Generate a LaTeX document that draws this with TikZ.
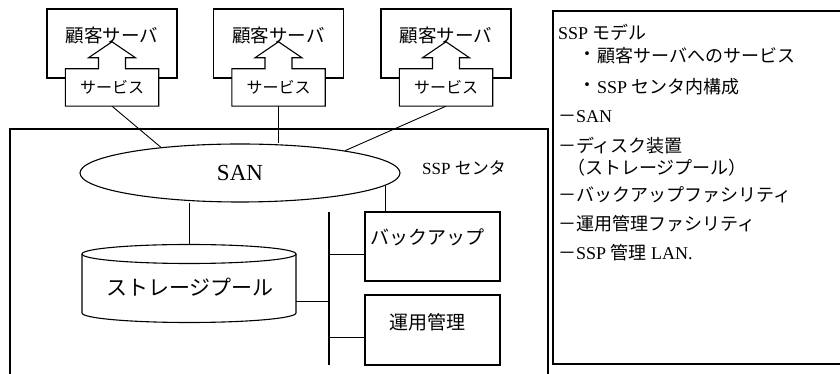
\documentclass[tikz,border=0pt]{standalone}
\usepackage{fontspec}
\usetikzlibrary{shapes.geometric}
\setmainfont{Liberation Serif}
\newfontfamily\jp{Noto Sans CJK JP}
\newcommand\myfs[1]{\fontsize{#1}{#1}\selectfont}
\begin{document}
\begin{tikzpicture}[x=1pt,y=1pt,
  custbox/.style={draw, line width=1.1pt, fill=white, minimum width=130pt, minimum height=69pt, inner sep=0pt},
  svcbox/.style={fill=white, minimum width=93pt, minimum height=37pt, inner sep=0pt, font=\jp\myfs{16}},
  custtxt/.style={inner sep=0pt, font=\jp\myfs{18.5}},
  sbox/.style={draw, line width=1.1pt, minimum width=135pt, minimum height=69pt, inner sep=0pt},
  lbl/.style={inner sep=0pt, anchor=west},
  frame/.style={line width=1.6pt},
  conn/.style={line width=0.9pt}
]
\useasboundingbox (0,0) rectangle (840,374);
% frames
\draw[frame] (10,-2) -- (10,245) -- (548,245) -- (548,-2);
\draw[frame] (842,363) -- (553,363) -- (553,10) -- (842,10);

% customer servers
\foreach \i/\cx in {1/112,2/278.5,3/446}{
  \node[custbox] (cust\i) at (\cx,330.5) {};
  \node[custtxt] (ct\i) at ([yshift=8.5pt]cust\i.center) {顧客サーバ};
  \node[svcbox] (svc\i) at (\cx,286.5) {サービス};
  \draw[line width=1.1pt] (svc\i.south west) -- (svc\i.north west) -- ([xshift=-13.5pt]svc\i.north) -- ++(0,11) -- ++(-10,0)
     -- ([yshift=27pt]svc\i.north) -- ++(23.5,-16) -- ++(-10,0) -- ([xshift=13.5pt]svc\i.north)
     -- (svc\i.north east) -- (svc\i.south east) -- cycle;
}

% SAN
\node[draw, ellipse, line width=1.1pt, minimum width=320pt, minimum height=58pt, inner sep=0pt, font=\myfs{23}] (san) at (240,201) {SAN};
\node[inner sep=0pt, font=\myfs{17}] (ssp) at (464,206) {SSP {\jp センタ}};

\draw[conn] (svc1.south) -- (san.162);
\draw[conn] (svc2.south) -- (svc2.south |- san.north);
\draw[conn] (svc3.south) -- (san.12);

% storage pool cylinder
\draw[line width=1.1pt] (82,120) -- (82,61) arc[start angle=180, end angle=360, x radius=107, y radius=9.5] -- (296,120);
\draw[line width=1.1pt] (189,120) ellipse [x radius=107, y radius=9.5];
\node[inner sep=0pt, font=\jp\myfs{21}] (pool) at (190,87) {ストレージプール};
\coordinate (pooltop) at (189,129.5);
\coordinate (poolr) at (296,73);
\draw[conn] (san.south -| pooltop) -- (pooltop);

% backup and operations
\node[sbox] (bk) at (432.5,127.5) {};
\node[inner sep=0pt, font=\jp\myfs{19}] (bkt) at (427,137) {バックアップ};
\node[sbox, minimum height=70pt] (um) at (432.5,44) {};
\node[inner sep=0pt, font=\jp\myfs{19}] (umt) at (427,52) {運用管理};
\draw[conn] (san.-5) -- (san.-5 |- bk.north);

% bus
\coordinate (bustop) at (329,162);
\coordinate (busbot) at (329,9);
\coordinate (j1) at (329,120);
\coordinate (j2) at (329,73);
\coordinate (j3) at (329,37);
\draw[line width=1.1pt] (bustop) -- (busbot);
\draw[conn] (j1) -- (j1 -| bk.west);
\draw[conn] (poolr) -- (j2);
\draw[conn] (j3) -- (j3 -| um.west);

% right panel
\begin{scope}[every node/.style={lbl, font=\myfs{18}}]
\node (r1) at (558,342) {SSP {\jp モデル}};
\node (b1) at (578,318) {\jp ・};
\node (r2) at (597,318) {\jp 顧客サーバへのサービス};
\node (b2) at (578,287) {\jp ・};
\node (r3) at (597,287) {SSP {\jp センタ内構成}};
\node (r4) at (558,257) {{\jp －}SAN};
\node (r5) at (558,228) {\jp －ディスク装置};
\node (r6) at (567,206) {\jp （ストレージプール）};
\node (r7) at (558,179) {\jp －バックアップファシリティ};
\node (r8) at (558,150) {\jp －運用管理ファシリティ};
\node (r9) at (558,121) {{\jp －}SSP {\jp 管理} LAN.};
\end{scope}
\end{tikzpicture}
\end{document}
